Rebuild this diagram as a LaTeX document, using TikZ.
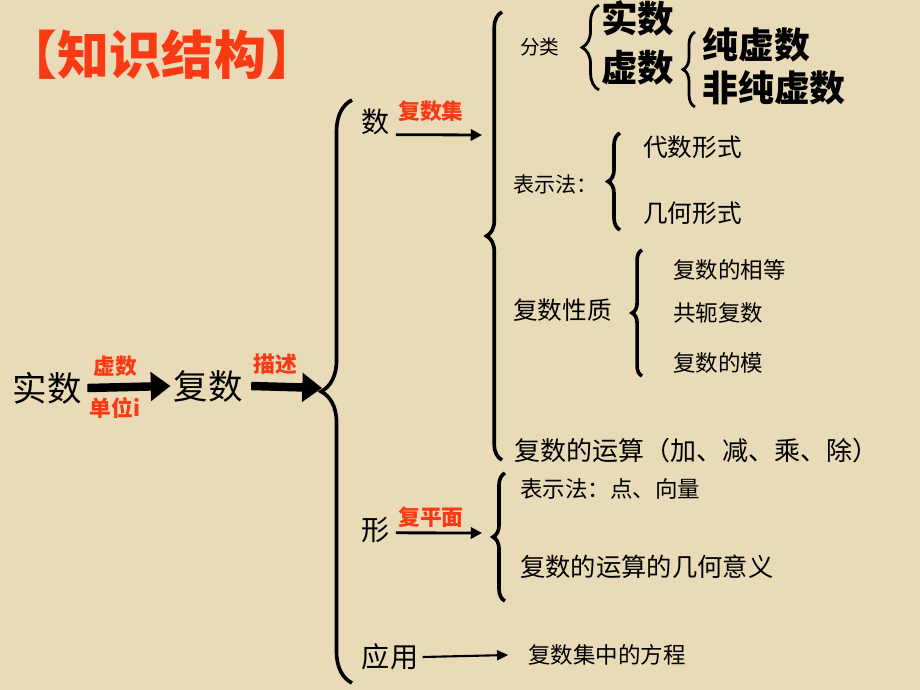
\documentclass[tikz,border=0pt]{standalone}
\usepackage{fontspec}
\setmainfont{Noto Sans CJK SC}
\usepackage{xcolor}
\usepackage{tikz}
\usetikzlibrary{arrows.meta, positioning, decorations.pathreplacing}

\definecolor{parchment}{RGB}{233,219,184}
\definecolor{labelred}{RGB}{250,58,20}

\begin{document}
\begin{tikzpicture}[x=0.025cm, y=-0.025cm,
  txt/.style={inner sep=0pt, anchor=west},
  redlbl/.style={inner sep=0pt, text=labelred, font=\fontsize{15.5pt}{16pt}\selectfont\bfseries},
  fatarrow/.style={line width=6pt, -{Triangle[length=14pt,width=20pt]}},
  thinarrow/.style={line width=2pt, -{Triangle[length=8pt,width=8pt]}},
  bigbrace/.style={decorate, line width=2.6pt, decoration={brace, amplitude=#1}},
  bigbrace/.default=10pt]
% Hintergrund
\fill[parchment] (0,0) rectangle (920,690);
\useasboundingbox (0,0) rectangle (920,690);

% Titel
\node[inner sep=0pt, text=labelred, font=\fontsize{37pt}{38pt}\selectfont\bfseries] (title) at (162,55) {【知识结构】};

% Hauptkette
\node[inner sep=0pt, font=\fontsize{24.5pt}{25pt}\selectfont] (shishu) at (47,388) {实数};
\node[inner sep=0pt, font=\fontsize{24.5pt}{25pt}\selectfont] (fushu) at (208,386) {复数};
\coordinate (bracetip) at (322,388);
\draw[fatarrow] ([xshift=4pt]shishu.east) -- ([xshift=-2pt]fushu.west);
\draw[fatarrow] ([xshift=6pt]fushu.east) -- (bracetip);
\node[redlbl] (xulbl) at (115,366) {虚数};
\node[redlbl] (danwei) at (115,408) {单位i};
\node[redlbl] (miaoshu) at (275,364) {描述};

% grosse Klammer
\draw[bigbrace=22pt] (352,683) -- (352,100);

% Zweig: Zahl
\node[inner sep=0pt, font=\fontsize{20pt}{21pt}\selectfont] (shu) at (376,122) {数};
\node[redlbl] (fushuji) at (431,111) {复数集};
\coordinate (shuend) at (482,135);
\draw[thinarrow] ([xshift=4pt,yshift=-9pt]shu.east) -- (shuend);
\draw[bigbrace=11pt] (502,460) -- (502,12);

% Klassifikation
\node[txt, font=\fontsize{14pt}{15pt}\selectfont] (fenlei) at (520,47) {分类};
\draw[bigbrace=12pt, line width=2pt] (599,90) -- (599,5);
\node[txt, font=\fontsize{26pt}{27pt}\selectfont\bfseries] (real) at (601,18) {实数};
\node[txt, font=\fontsize{26pt}{27pt}\selectfont\bfseries] (imag) at (601,68) {虚数};
\draw[bigbrace=8.5pt, line width=2pt] (695,107) -- (695,32);
\node[txt, font=\fontsize{25.5pt}{26pt}\selectfont\bfseries] (pure) at (702,45) {纯虚数};
\node[txt, font=\fontsize{25.5pt}{26pt}\selectfont\bfseries] (nonpure) at (702,88) {非纯虚数};

% Darstellung
\node[txt, font=\fontsize{15pt}{16pt}\selectfont] (biaoshi) at (513,184) {表示法：};
\draw[bigbrace=8.5pt, line width=2.6pt] (620,230) -- (620,133);
\node[txt, font=\fontsize{17.5pt}{18pt}\selectfont] (daishu) at (643,147) {代数形式};
\node[txt, font=\fontsize{17.5pt}{18pt}\selectfont] (jihe) at (643,213) {几何形式};

% Eigenschaften
\node[txt, font=\fontsize{17.5pt}{18pt}\selectfont] (xingzhi) at (513,310) {复数性质};
\draw[bigbrace=7pt, line width=2.6pt] (642,376) -- (642,250);
\node[txt, font=\fontsize{16pt}{17pt}\selectfont] (xiangdeng) at (673,270) {复数的相等};
\node[txt, font=\fontsize{16pt}{17pt}\selectfont] (gonge) at (673,313) {共轭复数};
\node[txt, font=\fontsize{16pt}{17pt}\selectfont] (mo) at (673,363) {复数的模};

\node[txt, font=\fontsize{18.5pt}{19pt}\selectfont] (yunsuan) at (514,451) {复数的运算（加、减、乘、除）};

% Zweig: Form
\node[inner sep=0pt, font=\fontsize{20pt}{21pt}\selectfont] (xing) at (376,530) {形};
\node[redlbl] (pingmian) at (431,517) {复平面};
\coordinate (xingend) at (482,533);
\draw[thinarrow] ([xshift=4pt,yshift=-2pt]xing.east) -- (xingend);
\draw[bigbrace=8.5pt] (505,601) -- (505,473);
\node[txt, font=\fontsize{16pt}{17pt}\selectfont] (dian) at (520,489) {表示法：点、向量};
\node[txt, font=\fontsize{18pt}{19pt}\selectfont] (jiheyi) at (520,567) {复数的运算的几何意义};

% Zweig: Anwendung
\node[inner sep=0pt, font=\fontsize{20pt}{21pt}\selectfont] (yingyong) at (390,657) {应用};
\node[txt, font=\fontsize{16pt}{17pt}\selectfont] (fangcheng) at (528,655) {复数集中的方程};
\draw[line width=1.5pt, -{Triangle[length=8pt,width=7pt]}] ([xshift=3pt]yingyong.east) -- ([xshift=-14pt]fangcheng.west);

\end{tikzpicture}
\end{document}
